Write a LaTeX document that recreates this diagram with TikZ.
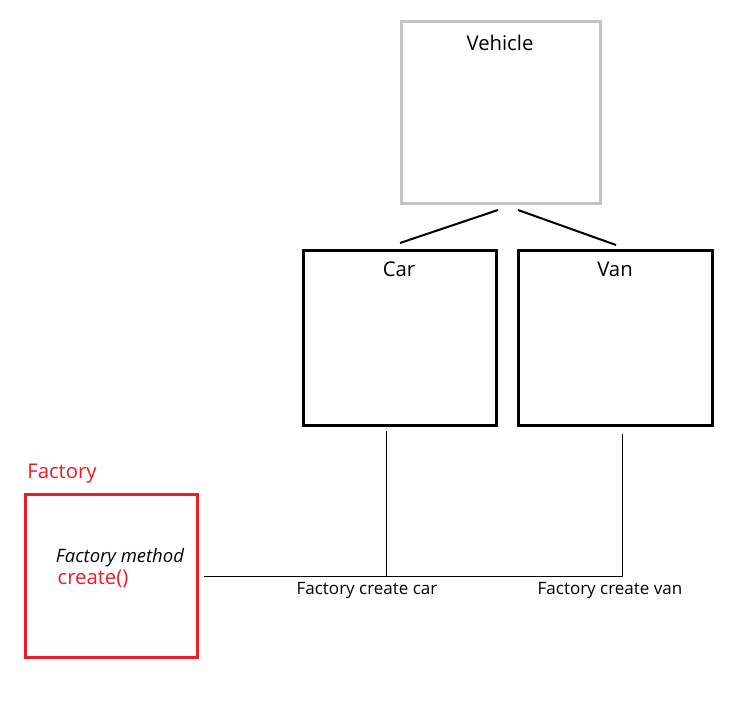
\documentclass[tikz,border=0pt]{standalone}
\usepackage{fontspec}
\setmainfont{Open Sans}
\definecolor{boxgray}{HTML}{C3C3C3}
\definecolor{factred}{HTML}{ED1C24}
\tikzstyle{classbox} = [draw, line width=3pt, inner sep=0pt]
\tikzstyle{title} = [font=\fontsize{20.3}{24}\selectfont, inner sep=0pt]
\tikzstyle{small} = [font=\fontsize{17}{20}\selectfont, inner sep=0pt]
\tikzstyle{link} = [line width=2pt]
\tikzstyle{wire} = [line width=1pt]

\begin{document}
\begin{tikzpicture}[x=1pt,y=-1pt]
		\useasboundingbox (0,0) rectangle (750,704);
		\node[classbox,draw=boxgray,minimum width=199pt,minimum height=182pt] (vehicle) at (501,112.5) {};
		\node[classbox,minimum width=193pt,minimum height=175pt] (car) at (400,338) {};
		\node[classbox,minimum width=194pt,minimum height=175pt] (van) at (615.5,338) {};
		\node[classbox,draw=factred,minimum width=172pt,minimum height=163pt] (factory) at (111.5,576) {};
		\node[title] (vehiclelabel) at (500,43) {Vehicle};
		\node[title] (carlabel) at (399,269) {Car};
		\node[title] (vanlabel) at (615,269) {Van};
		\node[title,text=factred] (factorylabel) at (62,474) {Factory};
		\node[small,font=\fontsize{18.5}{22}\selectfont\itshape] (method) at (120,557.5) {Factory method};
		\node[title,text=factred] (create) at (93,578.5) {create()};
		\node[small] (carmaker) at (367,590) {Factory create car};
		\node[small] (vanmaker) at (610,590) {Factory create van};
		\coordinate (v1) at (498,210);
		\coordinate (v2) at (518,210);
		\coordinate (c1) at (400,243);
		\coordinate (c2) at (616,245);
		\draw[link] (v1) -- (c1);
		\draw[link] (v2) -- (c2);
		\coordinate (f1) at (204,576);
		\coordinate (j1) at (386,576);
		\coordinate (j2) at (622,576);
		\coordinate (ctop) at (386,431);
		\coordinate (vtop) at (622,434);
		\draw[wire] (f1) -- (j2) -- (vtop);
		\draw[wire] (ctop) -- (j1);
		\end{tikzpicture}
\end{document}
